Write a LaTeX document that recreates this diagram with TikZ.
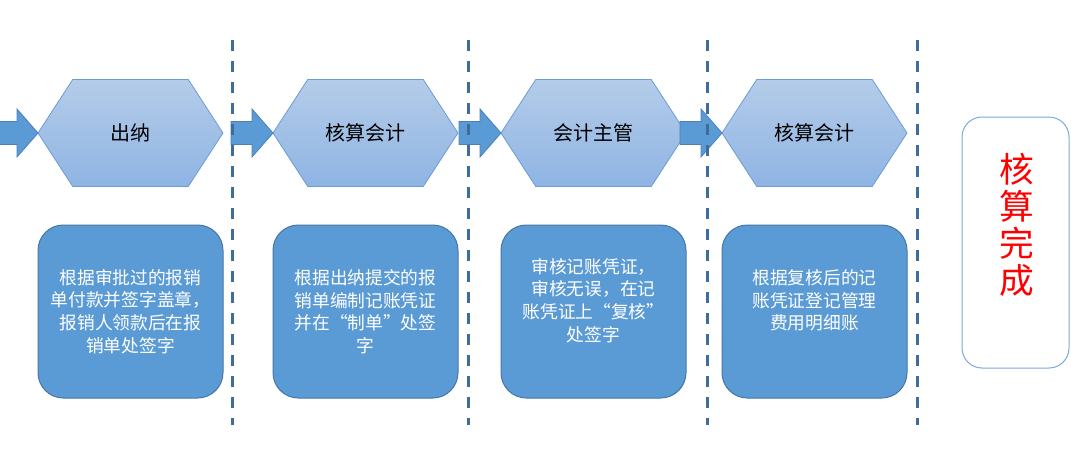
\documentclass[tikz,border=0pt]{standalone}
\usepackage{fontspec}
\setmainfont{Noto Sans CJK SC}
\usepackage{tikz}
\usetikzlibrary{calc,shapes.symbols}

\definecolor{hexTop}{HTML}{B4CCE9}
\definecolor{hexBottom}{HTML}{8FB4E3}
\definecolor{hexLine}{HTML}{6A9CD6}
\definecolor{arrowFill}{HTML}{5B9BD5}
\definecolor{arrowLine}{HTML}{4A7FB8}
\definecolor{boxFill}{HTML}{5B9BD5}
\definecolor{boxLine}{HTML}{4677A8}
\definecolor{divLine}{HTML}{3E6D9C}
\definecolor{doneLine}{HTML}{7EA9DC}

\begin{document}
\begin{tikzpicture}[x=0.75pt, y=-0.75pt, line join=miter,
                    every node/.style={outer sep=0pt}]

  \tikzset{
    stage/.style={signal, signal to=east and west, signal pointer angle=114,
      draw=hexLine, line width=0.6pt, top color=hexTop, bottom color=hexBottom,
      minimum width=138.75pt, minimum height=80.25pt, inner sep=0pt,
      font=\fontsize{15pt}{18pt}\selectfont},
    task/.style={rounded corners=19pt, draw=boxLine, fill=boxFill, line width=0.75pt,
      minimum width=138.75pt, minimum height=129.75pt},
    tasktext/.style={align=center, text=white, inner sep=0pt,
      font=\fontsize{13.3pt}{17pt}\selectfont},
    blockarrow/.style={draw=arrowLine, fill=arrowFill, line width=0.6pt},
    divider/.style={draw=divLine, line width=2.25pt, dash pattern=on 8pt off 7.75pt},
    donebox/.style={rounded corners=15pt, draw=doneLine, fill=white, line width=0.75pt,
      minimum width=80.25pt, minimum height=188.25pt},
    donetext/.style={align=center, text=red, inner sep=0pt,
      font=\fontsize{26pt}{27.75pt}\selectfont}
  }

  \useasboundingbox (0,0) rectangle (1071,458);

  % stages
  \foreach \i/\x/\role in {1/130.5/出纳,2/365.5/核算会计,3/593.5/会计主管,4/814.5/核算会计}
    \node[stage] (h\i) at (\x,133) {\role};

  % arrows into each stage
  \foreach \i in {1,...,4}
    \draw[blockarrow] (h\i.west) -- ++(-21,-24) -- ++(0,12.5) -- ++(-21,0)
      -- ++(0,23) -- ++(21,0) -- ++(0,12.5) -- cycle;

  % tasks
  \foreach \i in {1,...,4}
    \node[task] (b\i) at ($(h\i)+(0,178.5)$) {};

  \node[tasktext] (t1) at (b1) {根据审批过的报销\\单付款并签字盖章，\\报销人领款后在报\\销单处签字};
  \node[tasktext] (t2) at (b2) {根据出纳提交的报\\销单编制记账凭证\\并在“制单”处签\\字};
  \node[tasktext] (t3) at ($(b3)+(0,-11)$) {审核记账凭证，\\审核无误，在记\\账凭证上“复核”\\处签字};
  \node[tasktext] (t4) at ($(b4)+(0,-11)$) {根据复核后的记\\账凭证登记管理\\费用明细账};

  % done
  \node[donebox] (done) at (1015.5,242.5) {};
  \node[donetext] (dt) at ($(done)+(1.5,-17.5)$) {核\\算\\完\\成};

  % dividers
  \foreach \x in {232,468,707,917}
    \draw[divider] (\x,40) -- (\x,425);
\end{tikzpicture}
\end{document}
